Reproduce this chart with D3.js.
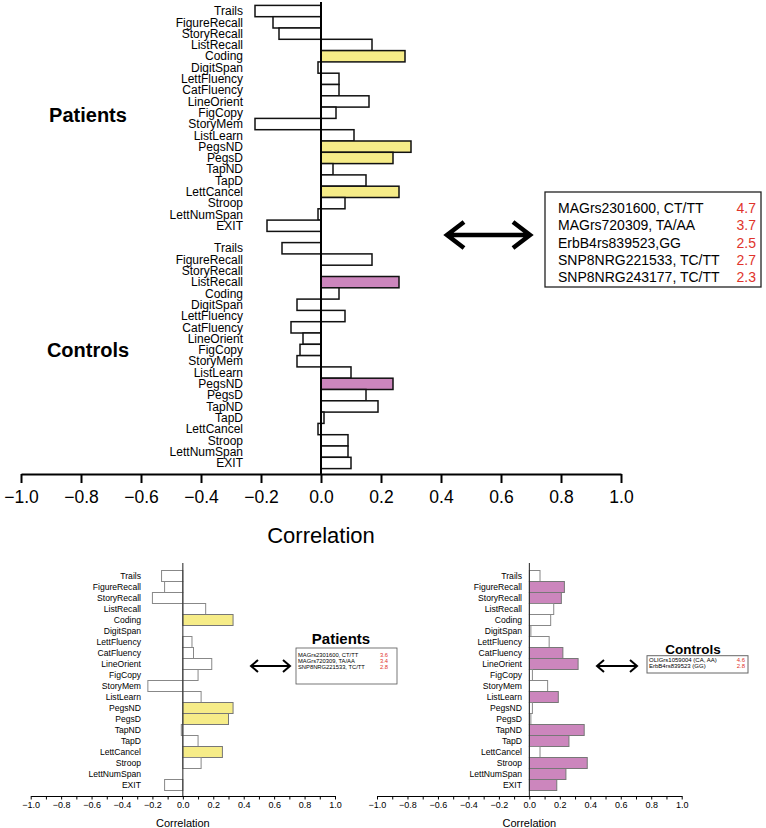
<!DOCTYPE html>
<html>
<head>
<meta charset="utf-8">
<script src="https://cdn.jsdelivr.net/npm/d3@7"></script>
<style>
  body { margin: 0; background: #fff; }
  svg { font-family: "Liberation Sans", Arial, sans-serif; }
</style>
</head>
<body>
<script>
// test names, same order in every panel
const tests = ['Trails', 'FigureRecall', 'StoryRecall', 'ListRecall', 'Coding', 'DigitSpan',
  'LettFluency', 'CatFluency', 'LineOrient', 'FigCopy', 'StoryMem', 'ListLearn', 'PegsND',
  'PegsD', 'TapND', 'TapD', 'LettCancel', 'Stroop', 'LettNumSpan', 'EXIT'];

// top figure: correlations
const topPatients = [-0.22, -0.16, -0.14, 0.17, 0.28, -0.01, 0.06, 0.06, 0.16, 0.05,
  -0.22, 0.11, 0.30, 0.24, 0.04, 0.15, 0.26, 0.08, -0.01, -0.18];
const topPatientsSig = ['Coding', 'PegsND', 'PegsD', 'LettCancel'];
const topControls = [-0.13, 0.17, 0.00, 0.26, 0.06, -0.08, 0.08, -0.10, -0.06, -0.07,
  -0.08, 0.10, 0.24, 0.15, 0.19, 0.01, -0.01, 0.09, 0.09, 0.10];
const topControlsSig = ['ListRecall', 'PegsND'];
const topSnps = ['MAGrs2301600, CT/TT', 'MAGrs720309, TA/AA', 'ErbB4rs839523,GG',
  'SNP8NRG221533, TC/TT', 'SNP8NRG243177, TC/TT'];
const topSnpValues = ['4.7', '3.7', '2.5', '2.7', '2.3'];

// bottom figures
const botPatients = [-0.14, -0.12, -0.20, 0.15, 0.33, 0.00, 0.06, 0.07, 0.19, 0.10,
  -0.23, 0.12, 0.33, 0.30, -0.01, 0.10, 0.26, 0.12, 0.00, -0.12];
const botPatientsSig = ['Coding', 'PegsND', 'PegsD', 'LettCancel'];
const botControls = [0.07, 0.23, 0.21, 0.16, 0.14, 0.01, 0.13, 0.22, 0.32, 0.02,
  0.12, 0.19, 0.02, 0.01, 0.36, 0.26, 0.07, 0.38, 0.24, 0.18];
const botControlsSig = ['FigureRecall', 'StoryRecall', 'CatFluency', 'LineOrient', 'ListLearn',
  'TapND', 'TapD', 'Stroop', 'LettNumSpan', 'EXIT'];
const botPatientSnps = ['MAGrs2301600, CT/TT', 'MAGrs720309, TA/AA', 'SNP8NRG221533, TC/TT'];
const botPatientSnpValues = ['3.6', '3.4', '2.8'];
const botControlSnps = ['OLIGrs1059004 (CA, AA)', 'ErbB4rs839523 (GG)'];
const botControlSnpValues = ['4.6', '2.8'];

const majorTicks = d3.range(-10, 11, 2).map(d => d / 10);
const minorTicks = d3.range(-10, 11, 1).map(d => d / 10);

const yellow = '#f6ec88';
const pink = '#cc86bd';

const width = 766;
const height = 828;

const svg = d3.select('body').append('svg')
  .attr('width', width)
  .attr('height', height);

// draws one block of bars with its labels
function drawBars(g, x, y, values, sig, color, opts) {
  const rows = tests.map((t, i) => ({ name: t, value: values[i], sig: sig.includes(t) }));

  g.append('g').selectAll('rect')
    .data(rows)
    .enter()
      .append('rect')
      .attr('x', d => x(Math.min(0, d.value)))
      .attr('y', d => y(d.name))
      .attr('width', d => Math.abs(x(d.value) - x(0)))
      .attr('height', y.bandwidth())
      .attr('fill', d => d.sig ? color : '#fff')
      .attr('stroke', d => d.sig ? opts.sigStroke : opts.stroke)
      .attr('stroke-width', opts.strokeWidth);

  g.append('g').selectAll('text')
    .data(rows)
    .enter()
      .append('text')
      .attr('x', opts.labelX)
      .attr('y', d => y(d.name) + y.bandwidth() / 2)
      .attr('dy', '0.35em')
      .attr('text-anchor', 'end')
      .style('font-size', opts.labelSize + 'px')
      .text(d => d.name);
}

// open-headed double arrow
function doubleArrow(x1, x2, yy, head, spread, sw) {
  const p = d3.path();
  p.moveTo(x1, yy); p.lineTo(x2, yy);
  p.moveTo(x1 + head, yy - spread); p.lineTo(x1, yy); p.lineTo(x1 + head, yy + spread);
  p.moveTo(x2 - head, yy - spread); p.lineTo(x2, yy); p.lineTo(x2 - head, yy + spread);
  svg.append('path')
    .attr('d', p.toString())
    .attr('fill', 'none')
    .attr('stroke', '#000')
    .attr('stroke-width', sw);
}

// legend box with snp names and red values
function snpBox(names, vals, box) {
  const g = svg.append('g');
  g.append('rect')
    .attr('x', box.x).attr('y', box.y)
    .attr('width', box.w).attr('height', box.h)
    .attr('fill', '#fff')
    .attr('stroke', box.stroke)
    .attr('stroke-width', box.sw);
  names.forEach((n, i) => {
    g.append('text')
      .attr('x', box.textX)
      .attr('y', box.firstY + i * box.lineH)
      .attr('dy', '0.35em')
      .style('font-size', box.size + 'px')
      .text(n);
    g.append('text')
      .attr('x', box.valX)
      .attr('y', box.firstY + i * box.lineH)
      .attr('dy', '0.35em')
      .attr('text-anchor', 'end')
      .attr('fill', '#e0332b')
      .style('font-size', box.size + 'px')
      .text(vals[i]);
  });
}

// ---------- top figure ----------
const xTop = d3.scaleLinear().domain([-1, 1]).range([21, 621]);
const yTopP = d3.scaleBand().domain(tests).range([5.4, 231.4]).padding(0);
const yTopC = d3.scaleBand().domain(tests).range([242.6, 468.6]).padding(0);
const topOpts = { stroke: '#111', sigStroke: '#111', strokeWidth: 1.5, labelX: 243, labelSize: 12 };

const topG = svg.append('g');
drawBars(topG, xTop, yTopP, topPatients, topPatientsSig, yellow, topOpts);
drawBars(topG, xTop, yTopC, topControls, topControlsSig, pink, topOpts);

topG.append('line')
  .attr('x1', xTop(0)).attr('x2', xTop(0))
  .attr('y1', 2).attr('y2', 474)
  .attr('stroke', '#000').attr('stroke-width', 2);

const topAxis = topG.append('g')
  .attr('transform', 'translate(0,474)')
  .call(d3.axisBottom(xTop).tickValues(majorTicks).tickFormat(d3.format('.1f'))
    .tickSize(9).tickSizeOuter(0).tickPadding(8));
topAxis.select('.domain').attr('stroke-width', 2);
topAxis.selectAll('.tick line').attr('stroke-width', 2);
topAxis.selectAll('.tick text')
  .style('font-size', '17.5px')
  .style('font-family', '"Liberation Sans", Arial, sans-serif');

topG.append('text')
  .attr('x', xTop(0)).attr('y', 543)
  .attr('text-anchor', 'middle')
  .style('font-size', '22px')
  .text('Correlation');

topG.append('text')
  .attr('x', 88).attr('y', 122)
  .attr('text-anchor', 'middle')
  .style('font-size', '20px').style('font-weight', 'bold')
  .text('Patients');
topG.append('text')
  .attr('x', 88).attr('y', 357)
  .attr('text-anchor', 'middle')
  .style('font-size', '20px').style('font-weight', 'bold')
  .text('Controls');

doubleArrow(447, 530, 235, 17, 13, 4.5);
snpBox(topSnps, topSnpValues, {
  x: 545, y: 192, w: 216, h: 95, stroke: '#222', sw: 1.3,
  textX: 558, valX: 756, firstY: 208, lineH: 17.3, size: 14
});

// ---------- bottom figures ----------
function bottomPanel(x0, x1, labelX, values, sig, color) {
  const x = d3.scaleLinear().domain([-1, 1]).range([x0, x1]);
  const y = d3.scaleBand().domain(tests).range([570.5, 790.5]).padding(0);
  const g = svg.append('g');
  drawBars(g, x, y, values, sig, color,
    { stroke: '#888', sigStroke: '#777', strokeWidth: 1, labelX: labelX, labelSize: 8.6 });

  g.append('line')
    .attr('x1', x(0)).attr('x2', x(0))
    .attr('y1', 563).attr('y2', 796)
    .attr('stroke', '#222').attr('stroke-width', 1);

  const ax = g.append('g')
    .attr('transform', 'translate(0,796)')
    .call(d3.axisBottom(x).tickValues(minorTicks)
      .tickFormat(d => (Math.round(d * 10) % 2 === 0 ? d3.format('.1f')(d) : ''))
      .tickSize(3.5).tickSizeOuter(0).tickPadding(2));
  ax.selectAll('.tick text')
    .style('font-size', '9px')
    .style('font-family', '"Liberation Sans", Arial, sans-serif');

  g.append('text')
    .attr('x', x(0)).attr('y', 827)
    .attr('text-anchor', 'middle')
    .style('font-size', '11px')
    .text('Correlation');
  return x;
}

bottomPanel(30.7, 335, 141, botPatients, botPatientsSig, yellow);
bottomPanel(377, 681.7, 522, botControls, botControlsSig, pink);

svg.append('text')
  .attr('x', 341).attr('y', 644)
  .attr('text-anchor', 'middle')
  .style('font-size', '15px').style('font-weight', 'bold')
  .text('Patients');
doubleArrow(251, 290, 666, 7, 6, 2);
snpBox(botPatientSnps, botPatientSnpValues, {
  x: 296, y: 648, w: 101, h: 36, stroke: '#555', sw: 0.8,
  textX: 298, valX: 388, firstY: 655, lineH: 5.9, size: 5.8
});

svg.append('text')
  .attr('x', 693).attr('y', 654)
  .attr('text-anchor', 'middle')
  .style('font-size', '13.5px').style('font-weight', 'bold')
  .text('Controls');
doubleArrow(597, 637, 666, 7, 6, 2);
snpBox(botControlSnps, botControlSnpValues, {
  x: 647, y: 655.7, w: 101, h: 17.3, stroke: '#666', sw: 1,
  textX: 649, valX: 745, firstY: 659.5, lineH: 6.8, size: 6
});
</script>
</body>
</html>
